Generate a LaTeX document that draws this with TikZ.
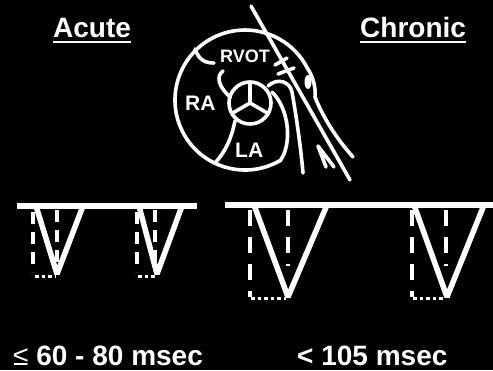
\documentclass[tikz,border=0pt]{standalone}
\usepackage{fontspec}
\setmainfont{Liberation Sans}
\begin{document}
\begin{tikzpicture}[x=1pt,y=-1pt,
  wall/.style={white, line width=3.6pt, line cap=round, line join=round},
  trace/.style={white, line width=5.5pt, line join=bevel},
  guide/.style={white, line width=3.2pt, dash pattern=on 12pt off 8pt},
  bigguide/.style={white, line width=3.4pt, dash pattern=on 16pt off 11pt},
  dots/.style={white, line width=3pt, dash pattern=on 3.5pt off 3pt},
  lbl/.style={text=white, font=\bfseries\fontsize{28}{28}\selectfont, inner sep=0pt, anchor=base west},
  chamber/.style={text=white, inner sep=0pt, anchor=base west, font=\bfseries\fontsize{21}{21}\selectfont},
  uline/.style={white, line width=2pt}
]
\fill[black] (0,0) rectangle (493,370);
\useasboundingbox (0,0) rectangle (493,370);

% headings
\node[lbl] (acute) at (53,37) {Acute};
\node[lbl] (chronic) at (360,37) {Chronic};
\draw[uline] ([yshift=-5pt]acute.base west) -- ([yshift=-5pt]acute.base east);
\draw[uline] ([yshift=-5pt]chronic.base west) -- ([yshift=-5pt]chronic.base east);

% durations
\node[lbl] (fast) at (13,365) {{\mdseries ≤} 60 - 80 msec};
\node[lbl] (slow) at (297,365) {< 105 msec};

% heart sketch: outer wall
\draw[wall] (245,100) ++(60:70) arc[start angle=60, end angle=333, radius=70]
            .. controls (313,76) and (316,88) .. (315,97);
\fill[white] (308,82) ellipse[x radius=3.5, y radius=7];
% inner walls
\draw[wall] (195,49) .. controls (199,60) and (205,63) .. (214,63);
\draw[wall] (223,71) .. controls (216,76) and (218,86) .. (230,97);
\draw[wall] (235,121) .. controls (231,140) and (225,152) .. (215,163);
\draw[wall] (272,92) .. controls (290,110) and (292,145) .. (280,161);
\draw[wall] (268,86) .. controls (278,77) and (290,82) .. (292,92)
            .. controls (297,120) and (301,150) .. (303,173);
\draw[wall] (315,97) .. controls (322,115) and (335,137) .. (353,157);
% aortic valve
\draw[wall] (250,103) circle[radius=21];
\draw[wall] (250,103) -- ++(270:21) (250,103) -- ++(150:21) (250,103) -- ++(30:21);
% catheter with electrode bars
\draw[wall] (251,6) -- (350,180);
\draw[wall] (275,65) -- (287,58);
\draw[wall] (278,74) -- (294,68);
% small arrow
\draw[wall] (326,167) -- (318,146) -- (334,167);
% chamber labels
\node[chamber, font=\bfseries\fontsize{18}{18}\selectfont] (rvot) at (220,62) {RVOT};
\node[chamber] (ra) at (185,110) {RA};
\node[chamber] (la) at (235,157) {LA};

% acute pace-map traces
\draw[trace] (17,206) -- (197,206);
\draw[trace] (36,206) -- (57,274) -- (83,206);
\draw[guide] (33,212) -- (33,272);
\draw[guide] (57,210) -- (57,262);
\draw[dots] (35,276) -- (55,276);
\draw[trace] (139,206) -- (157,274) -- (182,206);
\draw[guide] (137,212) -- (137,272);
\draw[guide] (155,210) -- (155,262);
\draw[dots] (138,276) -- (155,276);

% chronic traces
\draw[trace] (225,205) -- (493,205);
\draw[trace] (254,205) -- (288,297) -- (327,205);
\draw[bigguide] (250,210) -- (250,297);
\draw[bigguide] (288,210) -- (288,266);
\draw[dots] (251,298) -- (286,298);
\draw[trace] (414,205) -- (447,297) -- (484,205);
\draw[bigguide] (412,210) -- (412,297);
\draw[bigguide] (446,210) -- (446,266);
\draw[dots] (413,298) -- (445,298);
\end{tikzpicture}
\end{document}
